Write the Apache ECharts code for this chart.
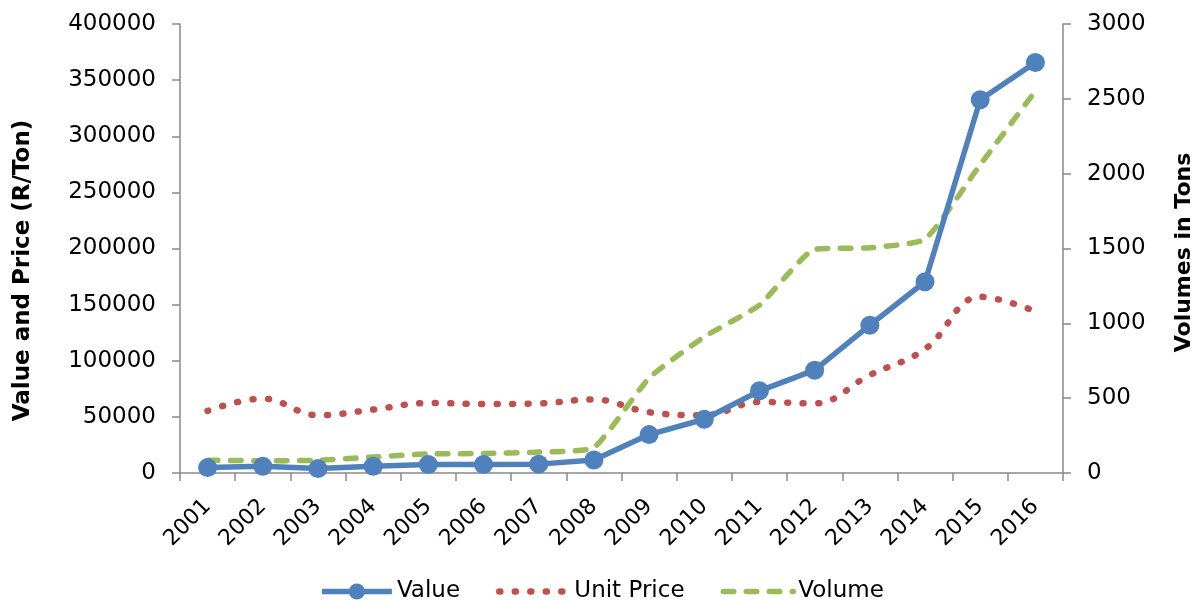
<!DOCTYPE html>
<html>
<head>
<meta charset="utf-8">
<script src="https://cdn.jsdelivr.net/npm/echarts@6/dist/echarts.min.js"></script>
<style>
  html, body { margin: 0; padding: 0; background: #fff; }
  #chart { width: 1203px; height: 601px; }
</style>
</head>
<body>
<div id="chart"></div>
<script>
// Years on the category axis
const years = ['2001','2002','2003','2004','2005','2006','2007','2008',
               '2009','2010','2011','2012','2013','2014','2015','2016'];

// Value (R), left axis
const valueSeries = [4800, 6000, 3900, 6000, 7500, 7500, 7900, 11500,
                     34200, 47900, 73200, 91600, 131700, 170400, 332500, 365700];

// Unit price (R/Ton), left axis
const unitPrice = [55300, 66300, 51500, 56500, 62400, 61500, 62000, 65500,
                   54100, 51500, 63300, 62000, 87300, 110400, 157000, 144000];

// Volume (tons), right axis
const volume = [85, 82, 85, 107, 128, 130, 140, 170,
                635, 910, 1122, 1495, 1505, 1562, 2060, 2552];

const FONT = 'DejaVu Sans';
const AXIS_GREY = '#898989';
const BLUE = '#4F81BD', RED = '#C0504D', GREEN = '#9BBB59';

// dash patterns, drawn with round caps
const DOTS = [1, 14.5];
const DASHES = [10.5, 12.5];

const plainNumber = v => String(v);

const chart = echarts.init(document.getElementById('chart'), null, { renderer: 'canvas' });

chart.setOption({
  animation: false,
  backgroundColor: '#ffffff',
  textStyle: { fontFamily: FONT, color: '#000' },
  grid: { left: 180, right: 140, top: 24, bottom: 128, containLabel: false },
  legend: {
    top: 575,
    left: 'center',
    itemWidth: 70,
    itemHeight: 20,
    itemGap: 36,
    textStyle: { fontFamily: FONT, fontSize: 23, color: '#000' },
    data: [
      { name: 'Value', lineStyle: { width: 5.5 } },
      { name: 'Unit Price', itemStyle: { opacity: 0 }, lineStyle: { width: 6.5, type: DOTS, cap: 'round' } },
      { name: 'Volume', itemStyle: { opacity: 0 }, lineStyle: { width: 5.5, type: DASHES, cap: 'round' } }
    ]
  },
  xAxis: {
    type: 'category',
    data: years,
    boundaryGap: true,
    axisLine: { lineStyle: { color: AXIS_GREY, width: 1.5 } },
    axisTick: { show: true, length: 8, interval: 0, lineStyle: { color: AXIS_GREY, width: 1.5 } },
    axisLabel: {
      interval: 0, rotate: 45, margin: 30,
      fontFamily: FONT, fontSize: 22, color: '#000'
    },
    splitLine: { show: false }
  },
  yAxis: [
    {
      type: 'value', min: 0, max: 400000, interval: 50000,
      name: 'Value and Price (R/Ton)',
      nameLocation: 'middle', nameRotate: 90, nameGap: 145,
      nameTextStyle: { fontFamily: FONT, fontSize: 23, fontWeight: 'bold', color: '#000', padding: [0, 44, 0, 0] },
      axisLine: { show: true, lineStyle: { color: AXIS_GREY, width: 1.5 } },
      axisTick: { show: true, length: 8, inside: false, lineStyle: { color: AXIS_GREY, width: 1.5 } },
      axisLabel: { margin: 24, fontFamily: FONT, fontSize: 23, color: '#000', formatter: plainNumber },
      splitLine: { show: false }
    },
    {
      type: 'value', min: 0, max: 3000, interval: 500, position: 'right',
      name: 'Volumes in Tons',
      nameLocation: 'middle', nameRotate: 90, nameGap: 110,
      nameTextStyle: { fontFamily: FONT, fontSize: 22, fontWeight: 'bold', color: '#000', padding: [0, 8, 0, 0] },
      axisLine: { show: true, lineStyle: { color: AXIS_GREY, width: 1.5 } },
      axisTick: { show: true, length: 8, inside: false, lineStyle: { color: AXIS_GREY, width: 1.5 } },
      axisLabel: { margin: 24, fontFamily: FONT, fontSize: 23, color: '#000', formatter: plainNumber },
      splitLine: { show: false }
    }
  ],
  series: [
    {
      name: 'Unit Price',
      type: 'line',
      yAxisIndex: 0,
      data: unitPrice,
      smooth: 0.4,
      symbol: 'none',
      z: 2,
      itemStyle: { color: RED },
      lineStyle: { color: RED, width: 6.5, type: DOTS, cap: 'round' }
    },
    {
      name: 'Volume',
      type: 'line',
      yAxisIndex: 1,
      data: volume,
      smooth: 0.15,
      symbol: 'none',
      z: 3,
      itemStyle: { color: GREEN },
      lineStyle: { color: GREEN, width: 5.5, type: DASHES, cap: 'round' }
    },
    {
      name: 'Value',
      type: 'line',
      yAxisIndex: 0,
      data: valueSeries,
      smooth: false,
      symbol: 'circle',
      symbolSize: 19,
      z: 4,
      itemStyle: { color: BLUE },
      lineStyle: { color: BLUE, width: 5.5 }
    }
  ]
});
</script>
</body>
</html>
